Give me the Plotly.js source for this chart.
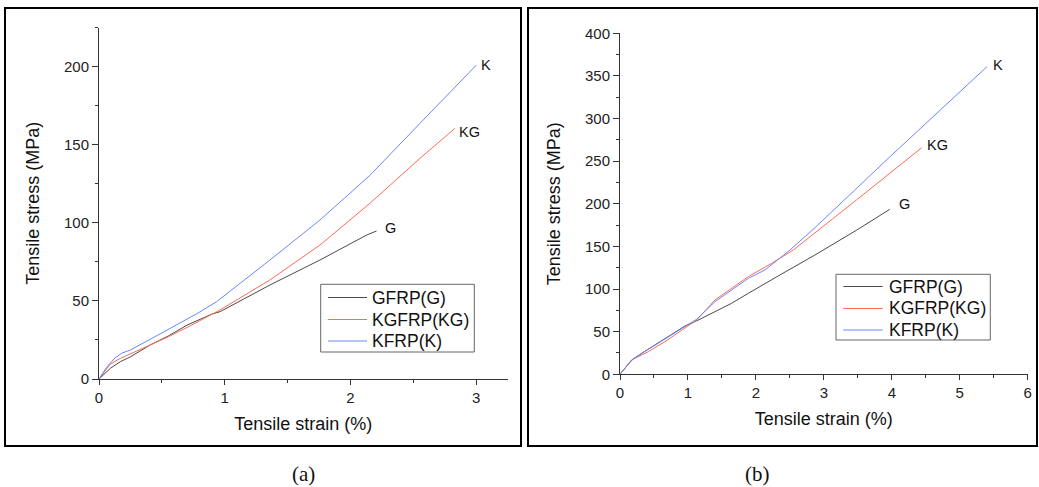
<!DOCTYPE html>
<html><head><meta charset="utf-8">
<script src="https://cdn.plot.ly/plotly-3.0.1.min.js"></script>
<style>html,body{margin:0;padding:0;background:#fff}#c{width:1039px;height:487px}</style>
</head><body><div id="c"></div>
<script>
// Panel (a)
const aG_x = [0, 0.09, 0.17, 0.25, 0.4, 0.55, 0.7, 0.898, 0.962, 1.359, 1.757, 2.075, 2.128, 2.207];
const aG_y = [0, 6.8, 11.1, 14.2, 21.5, 27.5, 34.5, 41.6, 43.1, 60.2, 76.2, 90.1, 92.2, 94.8];
const aKG_x = [0, 0.09, 0.17, 0.25, 0.4, 0.55, 0.7, 0.898, 0.962, 1.359, 1.757, 2.154, 2.552, 2.83];
const aKG_y = [0, 9.6, 13.2, 16, 21.5, 27, 33, 41.6, 44.2, 63.4, 85.8, 112.5, 141.3, 160.5];
const aK_x = [0, 0.06, 0.127, 0.18, 0.25, 0.366, 0.5, 0.63, 0.78, 0.935, 0.962, 1.359, 1.757, 2.154, 2.552, 3.0];
const aK_y = [0, 7.5, 13.5, 16.5, 18.6, 23.5, 29.5, 35.3, 41.9, 49.5, 51.2, 76.2, 101.8, 130.4, 163.7, 201];
// Panel (b)
const bG_x = [0, 0.08, 0.172, 0.319, 0.515, 0.76, 0.957, 1.153, 1.398, 1.643, 1.889, 2.134, 2.379, 2.87, 3.48, 3.97];
const bG_y = [0, 7.5, 16.8, 24.6, 34.4, 46.1, 56.7, 63.7, 73.5, 83.3, 95, 106.7, 117.7, 140, 169, 193.5];
const bKG_x = [0, 0.08, 0.19, 0.417, 0.662, 0.957, 1.128, 1.398, 1.889, 2.232, 2.55, 3.48, 4.44];
const bKG_y = [0, 8, 17.5, 26.6, 38.3, 54, 63.7, 87.2, 114.6, 130.2, 145.8, 204.5, 265.8];
const bK_x = [0, 0.08, 0.172, 0.319, 0.515, 0.76, 0.957, 1.128, 1.398, 1.889, 2.134, 2.232, 2.502, 2.87, 3.97, 5.40];
const bK_y = [0, 7.5, 16.8, 24.6, 34.4, 46.1, 55.9, 64.5, 85.2, 112.6, 122.4, 128.5, 145.8, 172, 255, 360.8];

const labels = ['GFRP(G)', 'KGFRP(KG)', 'KFRP(K)'];
const endLabels = ['G', 'KG', 'K'];
const colors = ['#4a4a4a', '#ff6a55', '#6a86ff'];

const W = 1039, H = 487;
const FF = 'Liberation Sans, Arial, sans-serif';
function tr(x, y, i, xa, ya) {
  return {x: x, y: y, type: 'scatter', mode: 'lines', name: labels[i],
    line: {color: colors[i], width: 1}, xaxis: xa, yaxis: ya, showlegend: false};
}
const data = [
  tr(aG_x, aG_y, 0, 'x', 'y'),
  tr(aKG_x, aKG_y, 1, 'x', 'y'),
  tr(aK_x, aK_y, 2, 'x', 'y'),
  tr(bG_x, bG_y, 0, 'x2', 'y2'),
  tr(bKG_x, bKG_y, 1, 'x2', 'y2'),
  tr(bK_x, bK_y, 2, 'x2', 'y2')
];
const tickFont = {family: FF, size: 15, color: '#222'};
const titleFont = {family: FF, size: 18, color: '#111'};
function xax(domain, range, dtick, anchor) {
  return {domain: domain, range: range, dtick: dtick, tick0: 0, anchor: anchor,
    showline: true, linecolor: '#333', linewidth: 1, ticks: 'outside', ticklen: 5, tickcolor: '#333',
    minor: {ticks: 'outside', ticklen: 3, dtick: dtick / 2, tickcolor: '#333'},
    showgrid: false, zeroline: false, tickfont: tickFont,
    title: {text: 'Tensile strain (%)', font: titleFont, standoff: 12}};
}
function yax(domain, range, dtick, anchor, standoff) {
  return {domain: domain, range: range, dtick: dtick, tick0: 0, anchor: anchor,
    showline: true, linecolor: '#333', linewidth: 1, ticks: 'outside', ticklen: 6, tickcolor: '#333',
    minor: {ticks: 'outside', ticklen: 3, dtick: dtick / 2, tickcolor: '#333'},
    showgrid: false, zeroline: false, tickfont: tickFont,
    title: {text: 'Tensile stress (MPa)', font: titleFont, standoff: standoff}};
}
const annFont = {family: FF, size: 14.5, color: '#111'};
function lab(t, x, y, xr, yr) {
  return {text: t, x: x, y: y, xref: xr, yref: yr, showarrow: false, xanchor: 'left', yanchor: 'middle', font: annFont};
}
const capFont = {family: 'Liberation Serif, Times New Roman, serif', size: 21, color: '#111'};

// legend boxes (pixel geometry of the drawn legend)
const shapes = [
  {type: 'rect', xref: 'paper', yref: 'paper', x0: 5 / W, x1: 521 / W, y0: (H - 446) / H, y1: (H - 8) / H,
    line: {color: '#000', width: 2}},
  {type: 'rect', xref: 'paper', yref: 'paper', x0: 528 / W, x1: 1037 / W, y0: (H - 446) / H, y1: (H - 8) / H,
    line: {color: '#000', width: 2}}
];
const annotations = [
  lab(endLabels[2], 3.02, 201, 'x', 'y'),
  lab(endLabels[1], 2.85, 158, 'x', 'y'),
  lab(endLabels[0], 2.255, 96.7, 'x', 'y'),
  lab(endLabels[2], 5.46, 362.8, 'x2', 'y2'),
  lab(endLabels[1], 4.49, 269, 'x2', 'y2'),
  lab(endLabels[0], 4.07, 199.4, 'x2', 'y2'),
  {text: '(a)', x: 303 / W, y: (H - 474) / H, xref: 'paper', yref: 'paper', showarrow: false,
    xanchor: 'center', yanchor: 'middle', font: capFont},
  {text: '(b)', x: 757 / W, y: (H - 474) / H, xref: 'paper', yref: 'paper', showarrow: false,
    xanchor: 'center', yanchor: 'middle', font: capFont}
];
function legendBox(bx0, bx1, by0, by1, lx0, lx1, tx, rows) {
  shapes.push({type: 'rect', xref: 'paper', yref: 'paper', x0: bx0 / W, x1: bx1 / W, y0: (H - by1) / H, y1: (H - by0) / H,
    line: {color: '#666', width: 1}, fillcolor: '#fff', layer: 'above'});
  for (let i = 0; i < 3; i++) {
    shapes.push({type: 'line', xref: 'paper', yref: 'paper', x0: lx0 / W, x1: lx1 / W, y0: (H - rows[i]) / H, y1: (H - rows[i]) / H,
      line: {color: colors[i], width: 1}, layer: 'above'});
    annotations.push({text: labels[i], x: tx / W, y: (H - rows[i]) / H, xref: 'paper', yref: 'paper', showarrow: false,
      xanchor: 'left', yanchor: 'middle', font: {family: FF, size: 17.5, color: '#111'}});
  }
}
legendBox(320.7, 474.3, 284.3, 352, 328, 367, 370, [297.5, 319.5, 341]);
legendBox(836, 990.3, 274.3, 340, 843.3, 882.7, 886.5, [286.5, 308.5, 330]);

const layout = {
  width: W, height: H, margin: {l: 0, r: 0, t: 0, b: 0},
  paper_bgcolor: '#fff', plot_bgcolor: 'rgba(0,0,0,0)', showlegend: false,
  xaxis: xax([99 / W, 507.7 / W], [0, 3.25], 1, 'y'),
  yaxis: yax([108 / H, 459.3 / H], [0, 225], 50, 'x', 19),
  xaxis2: xax([620 / W, 1027.7 / W], [0, 6], 1, 'y2'),
  yaxis2: yax([112.7 / H, 453.7 / H], [0, 400], 50, 'x2', 19),
  annotations: annotations,
  shapes: shapes
};
Plotly.newPlot('c', data, layout, {displayModeBar: false, staticPlot: true});
</script></body></html>
